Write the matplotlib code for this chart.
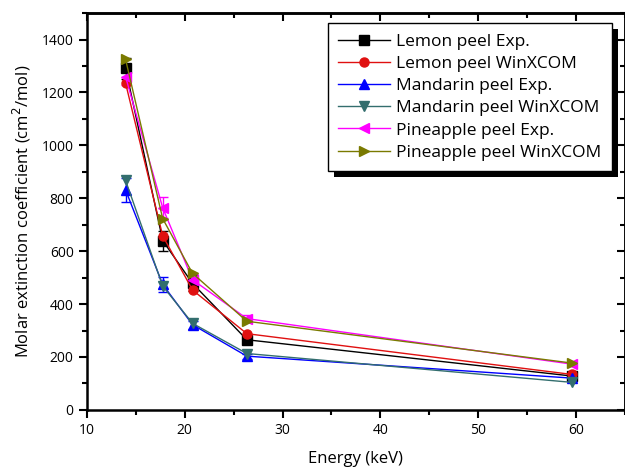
import matplotlib
matplotlib.use("Agg")
import matplotlib.pyplot as plt
from matplotlib.ticker import MultipleLocator
from matplotlib.patches import Rectangle

plt.rcParams['font.family'] = ['Open Sans', 'DejaVu Sans']

energy = [13.95, 17.75, 20.80, 26.35, 59.54]

lemon_exp = [1292, 640, 478, 265, 128]
lemon_exp_err = [40, 38, 30, 15, 8]
lemon_win = [1236, 658, 453, 288, 134]
mandarin_exp = [832, 474, 322, 203, 120]
mandarin_exp_err = [45, 30, 15, 10, 6]
mandarin_win = [868, 468, 327, 213, 104]
pine_exp = [1260, 764, 492, 345, 173]
pine_exp_err = [30, 40, 20, 12, 8]
pine_win = [1326, 723, 516, 335, 177]

labels = ["Lemon peel Exp.", "Lemon peel WinXCOM", "Mandarin peel Exp.",
          "Mandarin peel WinXCOM", "Pineapple peel Exp.", "Pineapple peel WinXCOM"]
colors = ["black", "#e01010", "#0000ff", "#336e6e", "#ff00ff", "#7a7a00"]
markers = ["s", "o", "^", "v", "<", ">"]

fig = plt.figure(figsize=(6.25, 4.7), dpi=100)
ax = fig.add_axes([0.139, 0.128, 0.861, 0.844])

series = [(lemon_exp, lemon_exp_err), (lemon_win, None), (mandarin_exp, mandarin_exp_err),
          (mandarin_win, None), (pine_exp, pine_exp_err), (pine_win, None)]
handles = []
for (vals, err), lab, c, m in zip(series, labels, colors, markers):
    if err is not None:
        ax.errorbar(energy, vals, yerr=err, fmt='none', ecolor=c, elinewidth=1,
                    capsize=3.5, capthick=1, zorder=2)
    h, = ax.plot(energy, vals, color=c, marker=m, markersize=6.5, linewidth=1,
                 label=lab, zorder=3)
    handles.append(h)

ax.set_xlim(10, 65)
ax.set_ylim(0, 1500)
ax.xaxis.set_major_locator(MultipleLocator(10))
ax.xaxis.set_minor_locator(MultipleLocator(5))
ax.set_yticks([0, 200, 400, 600, 800, 1000, 1200, 1400])
ax.yaxis.set_minor_locator(MultipleLocator(100))

for s in ax.spines.values():
    s.set_linewidth(1.8)
ax.tick_params(axis='both', which='both', width=1.5, labelsize=10)
ax.tick_params(axis='both', which='major', length=6, direction='out')
ax.tick_params(axis='both', which='minor', length=3.5, direction='out')

# mirrored inward ticks on top and right
top = ax.secondary_xaxis('top')
top.xaxis.set_major_locator(MultipleLocator(10))
top.xaxis.set_minor_locator(MultipleLocator(5))
top.tick_params(which='both', direction='in', labeltop=False, width=1.5)
top.tick_params(which='major', length=6)
top.tick_params(which='minor', length=3.5)
top.spines['top'].set_linewidth(1.8)
right = ax.secondary_yaxis('right')
right.set_yticks([0, 200, 400, 600, 800, 1000, 1200, 1400])
right.yaxis.set_minor_locator(MultipleLocator(100))
right.tick_params(which='both', direction='in', labelright=False, width=1.5)
right.tick_params(which='major', length=6)
right.tick_params(which='minor', length=3.5)
right.spines['right'].set_linewidth(1.8)

ax.set_xlabel("Energy (keV)", fontsize=12, labelpad=9)
ax.set_ylabel(r"Molar extinction coefficient (cm$^{2}$/mol)", fontsize=12, labelpad=6)

leg = ax.legend(handles=handles, loc='upper right', bbox_to_anchor=(0.976, 0.975),
                borderaxespad=0,
                fontsize=12.5, frameon=True, fancybox=False, edgecolor='black',
                handlelength=3.0, handletextpad=0.35, labelspacing=0.35, borderpad=0.6,
                framealpha=1)
leg.get_frame().set_linewidth(1.0)
leg.set_zorder(10)

fig.canvas.draw()
bb = leg.get_window_extent()
inv = fig.transFigure.inverted()
x0, y0 = inv.transform((bb.x0 + 6, bb.y0 - 6))
x1, y1 = inv.transform((bb.x1 + 6, bb.y1 - 6))
shadow = Rectangle((x0, y0), x1 - x0, y1 - y0, transform=fig.transFigure,
                   facecolor='black', edgecolor='none', zorder=9)
ax.add_artist(shadow)
shadow.set_transform(fig.transFigure)
shadow.set_clip_on(False)

fig.savefig("out.png", dpi=100)
